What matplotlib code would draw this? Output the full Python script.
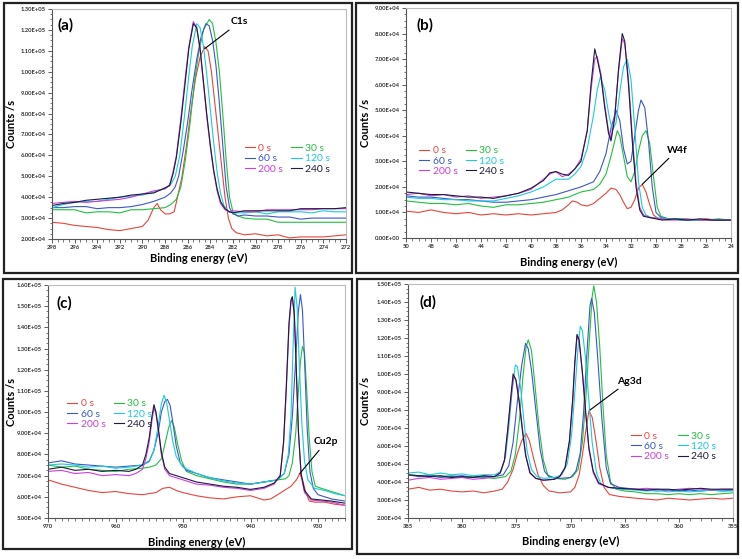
import matplotlib
matplotlib.use('Agg')
import matplotlib.pyplot as plt
from matplotlib.patches import Rectangle
from matplotlib.ticker import MultipleLocator, FormatStrFormatter

plt.rcParams['font.family'] = ['Lato', 'DejaVu Sans']

labels = ['0 s', '30 s', '60 s', '120 s', '200 s', '240 s']
colors = ['#e8453c', '#22c040', '#3a58c8', '#1ccbe0', '#cc3fe0', '#1c1c3c']

# (a) C1s -- (binding energy eV, counts in thousands)
c1s_0s = [(298,28),(297,27.5),(296,26.5),(295,26),(294,25.5),(293,24.5),(292,24),(291,25),(290,26),(289.5,29),(289,35),
          (288.7,37),(288.4,34),(288,32),(287.6,32),(287.2,33),(286.9,40),(286.5,50),(286.1,65),(285.7,82),(285.3,97),
          (284.9,107),(284.5,112),(284.2,110),(283.9,100),(283.6,85),(283.3,70),(283,55),(282.7,40),(282.4,30),(282.1,25),
          (281.7,23),(281,22),(280,22.5),(279,21.5),(278,22),(277,20.5),(276,21),(275,21),(274,21),(273,21.5),(272,22)]
c1s_30s = [(298,34),(297,34),(296,34),(295,32.5),(294,33),(293,33),(292,32.5),(291,34),(290,34),(289,34.5),(288,35),
           (287.5,36.5),(287,39),(286.6,45),(286.2,58),(285.8,75),(285.4,95),(285,110),(284.6,120),(284.1,125),(283.8,123),
           (283.5,114),(283.2,100),(282.9,80),(282.6,58),(282.3,40),(282,33),(281.6,31),(281,30),(280,29.5),(279,29.5),
           (278,28),(277,28),(276,28),(275,28),(274,28),(273,28),(272,28)]
c1s_60s = [(298,35),(297,35),(296,35.5),(295,35.5),(294,34.5),(293,35),(292,35),(291,35.5),(290,36.5),(289,38),(288,40),
           (287.5,42),(287.1,45),(286.8,50),(286.4,62),(286,76),(285.6,92),(285.2,106),(284.8,117),(284.4,123),(284.1,122),
           (283.8,115),(283.5,103),(283.2,85),(282.9,65),(282.6,45),(282.3,35),(282,32),(281.5,31),(281,31.5),(280,31),
           (279,31),(278,30.5),(277,30.5),(276,29.5),(275,30),(274,30),(273,30),(272,30)]
c1s_120s = [(298,35),(297,36.5),(296,37.5),(295,38),(294,38),(293,39),(292,40),(291,40.5),(290,41),(289,42.5),(288,44),
            (287.5,46),(287.1,50),(286.7,60),(286.3,78),(285.9,98),(285.6,112),(285.2,123),(284.9,121),(284.6,112),
            (284.3,98),(284,82),(283.7,66),(283.4,52),(283.1,42),(282.8,36),(282.4,33),(282,32.5),(281,32.5),(280,33),
            (279,32),(278,33),(277,33),(276,33),(275,32.5),(274,33.5),(273,33),(272,33)]
c1s_200s = [(298,37),(297,37.5),(296,38),(295,37.5),(294,38),(293,38.5),(292,39),(291,40),(290,41.5),(289,43),(288,44),
            (287.6,46),(287.3,52),(287,60),(286.6,78),(286.2,98),(285.9,112),(285.5,124),(285.2,121),(284.9,110),
            (284.6,94),(284.3,78),(284,64),(283.7,52),(283.4,43),(283.1,37),(282.7,34),(282.3,33),(282,33.5),(281,33),
            (280,33),(279,34),(278,34),(277,34),(276,34),(275,34),(274,34.5),(273,34.5),(272,34.5)]
c1s_240s = [(298,36),(297,37),(296,37.5),(295,38.5),(294,39),(293,39.5),(292,40),(291,41),(290,41.5),(289,42),(288,44.5),
            (287.6,45.5),(287.3,51),(287,59),(286.6,76),(286.2,96),(285.9,111),(285.5,123),(285.2,121),(284.9,111),
            (284.6,95),(284.3,79),(284,65),(283.7,53),(283.4,44),(283.1,38),(282.7,34.5),(282.3,33),(282,32.5),(281,33.5),
            (280,33.5),(279,33.5),(278,33.5),(277,33.5),(276,34.5),(275,34.5),(274,34.5),(273,34.5),(272,35)]

# (b) W4f
w4f_0s = [(50,10.5),(49,10),(48,11),(47,10),(46,9.5),(45,10),(44,9),(43,9.5),(42,9),(41,9.5),(40,9),(39,9.5),(38,10),
          (37.5,11),(37,13),(36.7,14.5),(36.3,14),(36,13),(35.5,12.5),(35,13.5),(34.5,15.5),(34,17.5),(33.6,19.5),
          (33.2,19),(32.9,17),(32.6,14),(32.3,11.5),(32,12),(31.7,15),(31.4,19.5),(31.1,21),(30.8,18),(30.5,13),
          (30.2,9),(29.8,7.5),(29,7),(28,7.5),(27,7),(26,7.5),(25,7),(24,7)]
w4f_30s = [(50,14.5),(49,14),(48,13.5),(47,13.5),(46,13),(45,13.5),(44,12.5),(43,12),(42,13),(41,13),(40,13.5),(39,14),
           (38,15),(37,16),(36,18),(35.5,18.5),(35,19),(34.5,21),(34,25),(33.6,32),(33.3,38),(33.1,42),(32.9,40),
           (32.6,32),(32.3,24),(32,22),(31.7,26),(31.4,34),(31.1,40),(30.8,42),(30.5,37),(30.2,24),(29.9,12),(29.6,8.5),
           (29,7.5),(28,7.5),(27,7),(26,7),(25,7.5),(24,7)]
w4f_60s = [(50,16.5),(49,16),(48,16),(47,15.5),(46,15),(45,15),(44,14.5),(43,14),(42,14),(41,14.5),(40,15),(39,16),
           (38,17),(37,18.5),(36,20),(35.5,21),(35,22),(34.5,26),(34,33),(33.6,43),(33.2,50),(32.9,46),(32.6,35),
           (32.3,29),(32,30),(31.7,40),(31.4,50),(31.2,54),(30.9,51),(30.6,38),(30.3,20),(30,10),(29.6,8),(29,7.5),
           (28,7),(27,7),(26,7),(25,7),(24,7)]
w4f_120s = [(50,16),(49,15.5),(48,15.5),(47,15),(46,15),(45,14.5),(44,14.5),(43,14.5),(42,15.5),(41,16.5),(40,18),
            (39,20),(38,23),(37,23),(36.5,25),(36,28),(35.5,35),(35,48),(34.7,58),(34.45,63),(34.1,58),(33.8,49),
            (33.5,42),(33.2,45),(32.9,57),(32.6,67),(32.3,70),(32,62),(31.7,43),(31.4,22),(31.1,12),(30.8,9),(30.4,8),
            (29,7.5),(28,7.5),(27,7),(26,7),(25,7),(24,7)]
w4f_200s = [(50,17),(49,17.5),(48,16.5),(47,17),(46,16),(45,16.5),(44,15.5),(43,16),(42,16.5),(41,17.5),(40,19),
            (39.5,21),(39,23),(38.5,25),(38,26),(37.5,24),(37,25),(36.5,27),(36,31),(35.5,42),(35.2,58),(34.9,70),
            (34.7,71),(34.4,64),(34.1,52),(33.8,42),(33.6,39),(33.3,48),(33,65),(32.7,78),(32.5,76),(32.2,62),
            (31.9,40),(31.6,22),(31.3,12),(31,9),(30.5,8),(29.5,7.5),(28.5,7),(27.5,7.5),(26.5,7),(25.5,7),(24,7)]
w4f_240s = [(50,18),(49,17.5),(48,17),(47,17),(46,16.5),(45,16),(44,16),(43,15.5),(42,16.5),(41,17.5),(40,19.5),
            (39.5,21),(39,22.5),(38.5,25.5),(38,26),(37.5,25),(37,24.5),(36.5,27),(36,30),(35.5,42),(35.2,60),
            (34.9,74),(34.7,70),(34.4,63),(34.1,51),(33.8,41),(33.6,38),(33.3,47),(33,66),(32.7,80),(32.5,77),
            (32.2,60),(31.9,38),(31.6,20),(31.3,11),(31,8.5),(30.5,8),(29.5,7),(28.5,7.5),(27.5,7),(26.5,7.5),
            (25.5,7),(24,7)]

# (c) Cu2p
cu2p_0s = [(970,68),(968,66),(966,64.5),(964,63),(962,62),(960,62.5),(958,61.5),(956,61),(954,62),(953,64),(952,64.5),
           (951,63),(950,62),(948,60.5),(946,59.5),(944,59),(942,60),(940,60.5),(938,58.5),(937,59),(936,61),(935,63),
           (934,65),(933.2,68),(932.7,71),(932.3,68),(931.8,62),(931.3,58),(930.5,57.5),(929,57.5),(927.5,56.5),(926,56)]
cu2p_30s = [(970,75),(968,74),(966,74.5),(964,73),(962,72.5),(960,72),(958,73),(956,73.5),(955,74),(954,75),(953.2,78),
            (952.6,86),(952.1,93),(951.7,96),(951.3,93),(950.8,85),(950.2,77),(949.5,72),(948,70),(946,68.5),(944,67),
            (942,66),(940,66),(938,67),(936,68),(934.8,68.5),(934.3,70),(933.8,76),(933.3,90),(932.9,110),(932.6,124),
            (932.3,131),(932,128),(931.7,112),(931.3,88),(930.9,72),(930.4,65),(929.5,64),(928,62.5),(927,61.5),(926,60.5)]
cu2p_60s = [(970,76),(968,77),(966,75.5),(964,75),(962,74.5),(960,74),(958,74.5),(956,75),(955,77),(954.3,82),(953.7,90),
            (953.2,100),(952.7,105),(952.3,106),(951.9,103),(951.5,95),(951,84),(950.4,76),(949.5,72.5),(948,71),
            (946,69),(944,68),(942,67),(940,66),(938,67),(936,68),(935,71),(934.3,80),(933.8,98),(933.3,125),
            (932.9,148),(932.6,155.5),(932.3,148),(932,125),(931.6,92),(931.2,72),(930.7,64),(930,61),(928,59),(926,58)]
cu2p_120s = [(970,75),(968,75.5),(966,75),(964,74),(962,74.5),(960,73.5),(958,74),(956,75),(955,76.5),(954.3,82),
             (953.7,93),(953.2,104),(952.8,108),(952.4,104),(952,96),(951.5,86),(951,79),(950,74),(948,71),(946,69),
             (944,67.5),(942,66.5),(940,66),(938,67),(936,68),(935,71),(934.4,80),(934,98),(933.7,130),(933.4,159),
             (933.1,150),(932.8,125),(932.4,95),(932,77),(931.5,68),(930.5,64),(929,63),(927.5,61.5),(926,60.5)]
cu2p_200s = [(970,72),(968,72.5),(966,71),(964,71.5),(962,70),(960,70.5),(958,70),(957,71),(956,73),(955.5,78),(955,86),
             (954.6,96),(954.3,102),(954,99),(953.6,90),(953.2,80),(952.7,73),(952,70),(950,68),(948,66),(946,65.5),
             (944,64.5),(942,64),(940,63),(938,64),(936.5,66),(935.6,70),(935.1,85),(934.7,110),(934.3,140),(934,152),
             (933.8,154),(933.5,145),(933.2,118),(932.9,90),(932.5,70),(932,62),(931,58.5),(929.5,58),(928,57.5),(926,56)]
cu2p_240s = [(970,73),(968,74),(966,72.5),(964,73),(962,72),(960,72.5),(958,72),(957,73),(956,75),(955.5,80),(955,88),
             (954.6,98),(954.3,103.5),(954,100),(953.6,91),(953.2,81),(952.7,74),(952,71),(950,69),(948,67),(946,66),
             (944,65),(942,64.5),(940,63.5),(938,64.5),(936.5,66.5),(935.6,70),(935.1,86),(934.7,112),(934.3,142),
             (934,153),(933.8,154.5),(933.5,146),(933.2,119),(932.9,91),(932.5,71),(932,63),(931,59),(929.5,58.5),
             (928,58),(926,57)]

# (d) Ag3d
ag3d_0s = [(385,36),(384,37),(383,35.5),(382,36),(381,35),(380,34.5),(379,35),(378,34),(377,35),(376.3,36),(375.8,40),
           (375.3,47),(374.9,56),(374.5,63),(374.1,67),(373.8,63),(373.4,53),(373,44),(372.5,38),(372,35),(371,34),
           (370,34.5),(369.6,37),(369.2,44),(368.9,55),(368.6,68),(368.3,79.5),(368,76),(367.7,65),(367.3,48),
           (366.9,37),(366.4,33),(365.5,32),(364,31),(363,30.5),(362,30),(361,31),(360,30.5),(359,30),(358,30.5),
           (357,31),(356,30.5),(355,31)]
ag3d_30s = [(385,44),(384,43.5),(383,44),(382,43),(381,43.5),(380,42.5),(379,43),(378,42.5),(377,42),(376,43),(375.5,46),
            (375.1,55),(374.7,75),(374.4,98),(374.1,115),(373.9,119),(373.6,113),(373.3,95),(372.9,70),(372.5,52),
            (372.1,44),(371.5,42),(370.5,41.5),(369.8,43),(369.3,47),(368.9,62),(368.6,85),(368.3,115),(368,143),
            (367.85,149),(367.6,140),(367.3,115),(367,82),(366.7,55),(366.3,40),(365.8,36),(365,35),(364,34.5),
            (363,33.5),(362,33.5),(361,33),(360,33.5),(359,33),(358,33.5),(357,33),(356,33.5),(355,34)]
ag3d_60s = [(385,44),(384,43),(383,43.5),(382,42.5),(381,43),(380,43.5),(379,42.5),(378,43),(377,43),(376.2,44),
            (375.7,49),(375.3,62),(374.9,85),(374.5,105),(374.15,117),(373.9,114),(373.6,102),(373.2,80),(372.8,58),
            (372.4,46),(372,43),(371,42),(370,42.5),(369.5,46),(369.1,56),(368.8,78),(368.5,110),(368.2,138),
            (368.05,142),(367.8,134),(367.5,110),(367.1,75),(366.7,48),(366.3,39),(365.5,37),(364,36),(363,35.5),
            (362,35),(361,35.5),(360,35),(359,35.5),(358,35),(357,35.5),(356,35),(355,35.5)]
ag3d_120s = [(385,45),(384,45.5),(383,44),(382,45),(381,44),(380,44.5),(379,43.5),(378,44),(377,44),(376.4,46),
             (376,54),(375.7,70),(375.4,90),(375.1,105),(374.9,104),(374.6,92),(374.3,74),(374,57),(373.6,47),
             (373.1,43),(372.5,42),(371.5,42.5),(370.8,44),(370.3,50),(369.9,66),(369.6,90),(369.3,115),(369.1,126.5),
             (368.9,124),(368.6,108),(368.3,85),(368,62),(367.6,45),(367.2,39),(366.5,37),(365.5,36),(364,35.5),
             (363,35),(362,35.5),(361,34.5),(360,35),(359,34.5),(358,35),(357,35.5),(356,35),(355,35)]
ag3d_200s = [(385,41),(384,42),(383,42.5),(382,41.5),(381,42),(380,42.5),(379,41.5),(378,42),(377,43),(376.5,45),
             (376.1,52),(375.8,68),(375.5,86),(375.25,99),(375,96),(374.7,84),(374.4,68),(374.1,54),(373.7,45),
             (373.2,42),(372.5,41),(371.5,41.5),(371,43),(370.5,48),(370.1,62),(369.8,84),(369.6,105),(369.4,121),
             (369.2,118),(368.9,100),(368.6,78),(368.3,58),(367.9,45),(367.4,39),(366.5,37),(365.5,36.5),(364,36),
             (363,36.5),(362,36),(361,35.5),(360,36),(359,36.5),(358,36),(357,35.5),(356,36),(355,36)]
ag3d_240s = [(385,44),(384,43.5),(383,43),(382,43.5),(381,42.5),(380,43),(379,42.5),(378,43.5),(377,43),(376.5,45),
             (376.1,52),(375.8,69),(375.5,88),(375.3,100),(375.05,97),(374.75,85),(374.45,69),(374.15,55),(373.75,45),
             (373.2,42),(372.5,41),(371.5,41.5),(371,43),(370.5,48),(370.1,63),(369.8,86),(369.6,107),(369.4,122),
             (369.2,119),(368.9,101),(368.6,79),(368.3,59),(367.9,46),(367.4,39.5),(366.5,37),(365.5,36.5),(364,36),
             (363,35.5),(362,36),(361,36),(360,35.5),(359,36),(358,36.5),(357,36),(356,36),(355,36)]

W, H = 742, 559

def px_axes(l, t, r, b):
    return [l / W, 1 - b / H, (r - l) / W, (b - t) / H]

panels = [
    dict(rect=px_axes(52, 9, 346, 239), box=(4, 3, 352, 273), tag='(a)', tagpos=(0.045, 0.93),
         series=[c1s_0s, c1s_30s, c1s_60s, c1s_120s, c1s_200s, c1s_240s],
         xlim=(298, 272), xmaj=2, xmin=0.5, ylim=(2e4, 1.3e5), leg=(0.655, 0.415),
         name='C1s', point=(284.5, 111e3), text=(281.4, 123.8e3), ylab=-0.118, xlab=-0.062),
    dict(rect=px_axes(406, 8, 731, 238), box=(356, 3, 738, 273), tag='(b)', tagpos=(0.058, 0.926),
         series=[w4f_0s, w4f_30s, w4f_60s, w4f_120s, w4f_200s, w4f_240s],
         xlim=(50, 24), xmaj=2, xmin=0.5, ylim=(0, 9e4), leg=(0.04, 0.40),
         name='W4f', point=(31.1, 21e3), text=(28.3, 34.4e3), ylab=-0.107, xlab=-0.083),
    dict(rect=px_axes(48, 285, 345, 518), box=(3, 279, 352, 549), tag='(c)', tagpos=(0.054, 0.92),
         series=[cu2p_0s, cu2p_30s, cu2p_60s, cu2p_120s, cu2p_200s, cu2p_240s],
         xlim=(970, 926), xmaj=10, xmin=1, ylim=(5e4, 1.6e5), leg=(0.064, 0.51),
         name='Cu2p', point=(932.7, 71e3), text=(928.8, 85.9e3), ylab=-0.105, xlab=-0.082),
    dict(rect=px_axes(408, 284, 733, 518), box=(357, 279, 738, 554), tag='(d)', tagpos=(0.062, 0.92),
         series=[ag3d_0s, ag3d_30s, ag3d_60s, ag3d_120s, ag3d_200s, ag3d_240s],
         xlim=(385, 355), xmaj=5, xmin=1, ylim=(2e4, 1.5e5), leg=(0.686, 0.37),
         name='Ag3d', point=(368.2, 80e3), text=(364.6, 96.1e3), ylab=-0.113, xlab=-0.077),
]

fig = plt.figure(figsize=(W / 100, H / 100), dpi=100)
fig.patch.set_facecolor('white')

for p in panels:
    l, t, r, b = p['box']
    fig.patches.append(Rectangle((l / W, 1 - b / H), (r - l) / W, (b - t) / H, transform=fig.transFigure,
                                 fill=False, edgecolor='#222222', linewidth=1.6))
    ax = fig.add_axes(p['rect'])
    lines = []
    for s, lab, c in zip(p['series'], labels, colors):
        xs = [pt[0] for pt in s]
        ys = [pt[1] * 1000 for pt in s]
        ln, = ax.plot(xs, ys, color=c, lw=0.8, label=lab)
        lines.append(ln)
    ax.set_xlim(*p['xlim'])
    ax.set_ylim(*p['ylim'])
    ax.xaxis.set_major_locator(MultipleLocator(p['xmaj']))
    ax.xaxis.set_minor_locator(MultipleLocator(p['xmin']))
    ax.yaxis.set_major_locator(MultipleLocator(1e4))
    ax.yaxis.set_minor_locator(MultipleLocator(2.5e3))
    ax.yaxis.set_major_formatter(FormatStrFormatter('%.2E'))
    ax.xaxis.set_major_formatter(FormatStrFormatter('%d'))
    ax.tick_params(axis='both', which='major', labelsize=4.2, length=3, width=0.6, color='#444444', pad=1.5)
    ax.tick_params(axis='both', which='minor', length=1.8, width=0.5, color='#444444')
    for lab in ax.get_xticklabels() + ax.get_yticklabels():
        lab.set_fontweight('bold')
        lab.set_color('#333333')
    for side in ['left', 'bottom']:
        ax.spines[side].set_color('#555555')
        ax.spines[side].set_linewidth(0.8)
    for side in ['top', 'right']:
        ax.spines[side].set_color('#bbbbbb')
        ax.spines[side].set_linewidth(0.8)
    ax.set_xlabel('Binding energy (eV)', fontsize=8, fontweight='bold')
    ax.set_ylabel('Counts /s', fontsize=8, fontweight='bold')
    ax.xaxis.set_label_coords(0.5, p['xlab'])
    ax.yaxis.set_label_coords(p['ylab'], 0.5)
    ax.text(p['tagpos'][0], p['tagpos'][1], p['tag'], transform=ax.transAxes, fontsize=11,
            fontweight='bold', ha='center', va='center')
    ax.annotate(p['name'], xy=p['point'], xytext=p['text'], fontsize=7.5, fontweight='bold',
                ha='center', va='center', arrowprops=dict(arrowstyle='-', color='black', lw=0.8,
                                                          shrinkA=1, shrinkB=0))
    order = [0, 2, 4, 1, 3, 5]
    leg = ax.legend([lines[i] for i in order], [labels[i] for i in order], ncol=2, loc='upper left',
                    bbox_to_anchor=p['leg'], frameon=False, fontsize=7.5, handlelength=1.0,
                    handletextpad=0.3, columnspacing=0.8, labelspacing=0.1, borderpad=0, borderaxespad=0)
    for txt, i in zip(leg.get_texts(), order):
        txt.set_color(colors[i])

fig.savefig('out.png', dpi=100, facecolor='white')
